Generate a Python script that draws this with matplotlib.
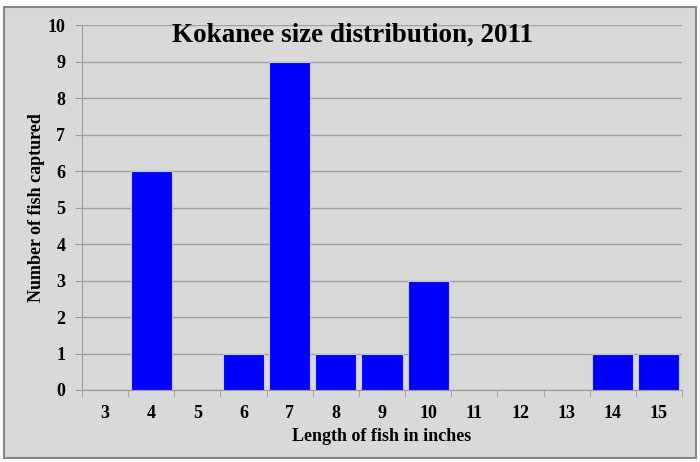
import numpy as np
import matplotlib.pyplot as plt
from matplotlib.patches import Rectangle

lengths = [3, 4, 5, 6, 7, 8, 9, 10, 11, 12, 13, 14, 15]
counts = [0, 6, 0, 1, 9, 1, 1, 3, 0, 0, 0, 1, 1]

plt.rcParams['font.family'] = 'Liberation Serif'
plt.rcParams['font.weight'] = 'bold'

fig = plt.figure(figsize=(7, 4.62), dpi=100)
fig.patch.set_facecolor('white')
fig.patches.append(Rectangle((4/700, 4/462), 692/700, 451/462, transform=fig.transFigure,
                             facecolor='#D9D9D9', edgecolor='#888888', lw=1.5, zorder=-1))

ax = fig.add_axes([82/700, 72/462, 600/700, 365/462])
ax.set_facecolor('#D9D9D9')
x = np.arange(len(lengths))
ax.bar(x, counts, width=0.89, color='#0000FF', edgecolor='#C8C8DC', linewidth=0.8, zorder=3)

ax.set_xlim(-0.5, len(lengths) - 0.5)
ax.set_ylim(0, 10)
ax.set_yticks(range(0, 11))
ax.set_xticks(x)
ax.set_xticklabels([str(v) for v in lengths], fontsize=13, fontweight='bold')
ax.set_xticks(np.arange(-0.5, len(lengths)), minor=True)
ax.tick_params(axis='x', which='major', length=0, pad=11)
ax.tick_params(axis='x', which='minor', length=5, color='#999999')
ax.tick_params(axis='y', length=5, color='#999999', labelsize=13, pad=7)
for lab in ax.get_yticklabels():
    lab.set_fontweight('bold')

ax.yaxis.grid(True, color='#A0A0A0', lw=1, zorder=0)
for s in ['top', 'right']:
    ax.spines[s].set_visible(False)
for s in ['left', 'bottom']:
    ax.spines[s].set_color('#999999')

ax.set_xlabel('Length of fish in inches', fontsize=13, fontweight='bold', labelpad=4)
ax.set_ylabel('Number of fish captured', fontsize=13, fontweight='bold', labelpad=2)
fig.text(172/700, 1 - 35/462, 'Kokanee size distribution, 2011', fontsize=19.5,
         fontweight='bold', va='center', ha='left')

fig.savefig('out.png', dpi=100, facecolor=fig.get_facecolor())
